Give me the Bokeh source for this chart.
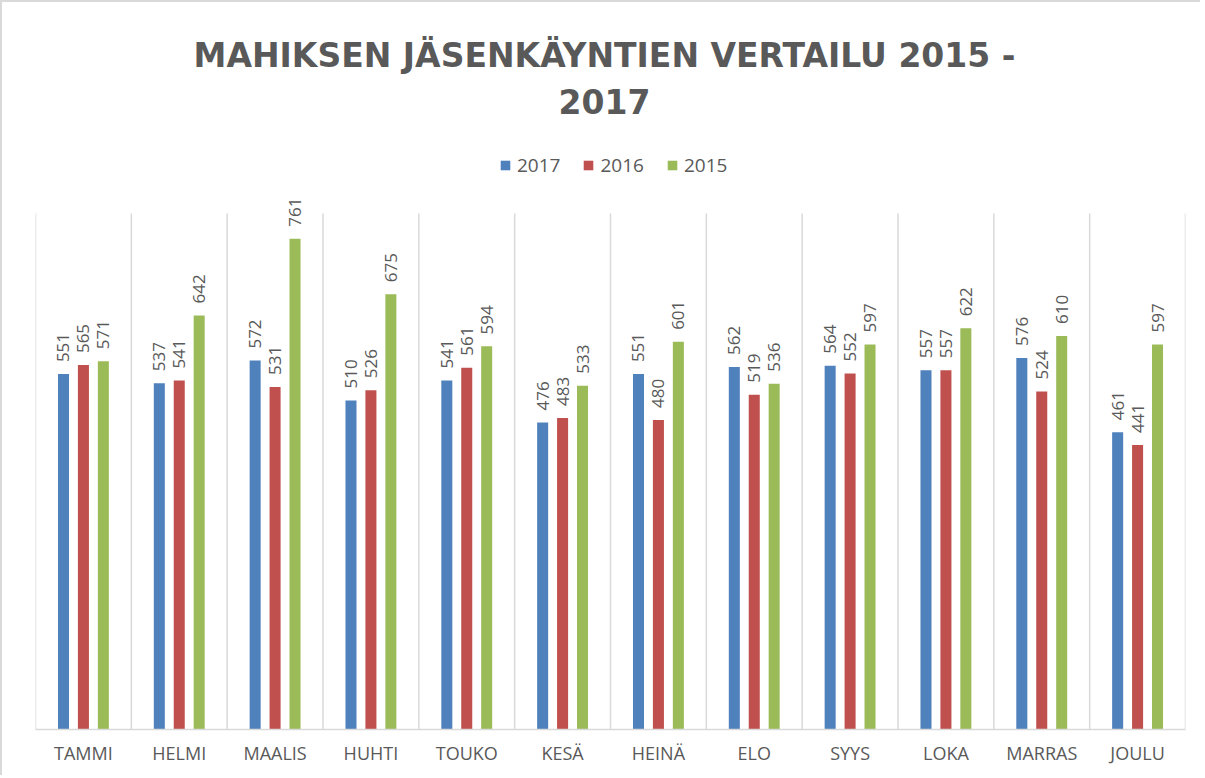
import numpy as np
from bokeh.plotting import figure
from bokeh.models import Range1d, FixedTicker, ColumnDataSource, LabelSet, Label, Legend, LegendItem
from bokeh.embed import file_html
from bokeh.resources import INLINE
from bokeh.core.properties import value

months = ["TAMMI", "HELMI", "MAALIS", "HUHTI", "TOUKO", "KESÄ",
          "HEINÄ", "ELO", "SYYS", "LOKA", "MARRAS", "JOULU"]
v2017 = [551, 537, 572, 510, 541, 476, 551, 562, 564, 557, 576, 461]
v2016 = [565, 541, 531, 526, 561, 483, 480, 519, 552, 557, 524, 441]
v2015 = [571, 642, 761, 675, 594, 533, 601, 536, 597, 622, 610, 597]
series = ["2017", "2016", "2015"]
values = [v2017, v2016, v2015]
colors = ["#4F81BD", "#C0504D", "#9BBB59"]
title_lines = ["MAHIKSEN JÄSENKÄYNTIEN VERTAILU 2015 -", "2017"]
y_max = 800

FONT = "Open Sans"
TFONT = "DejaVu Sans"
GRAY = "#595959"
GRID = "#d9d9d9"

# frame covers the whole upper canvas so that title/legend/labels are not clipped
FRAME_H = 727
Y_TOP = y_max * FRAME_H / 516.0

p = figure(width=1200, height=775, x_range=Range1d(0, 12), y_range=Range1d(0, Y_TOP),
           output_backend="svg", toolbar_location=None,
           min_border_left=33, min_border_right=17, min_border_top=0, min_border_bottom=48)
p.yaxis.visible = False
p.outline_line_color = None
p.xgrid.grid_line_color = None
p.ygrid.grid_line_color = None

# category separators (gridlines) from 0 to y_max
bounds = np.arange(len(months) + 1)
p.segment(x0=bounds, y0=0, x1=bounds, y1=y_max, line_color=GRID, line_width=1.5)

centers = np.arange(len(months)) + 0.5
p.xaxis.ticker = FixedTicker(ticks=list(centers))
p.xaxis.major_label_overrides = {float(c): m for c, m in zip(centers, months)}
p.xaxis.major_tick_line_color = None
p.xaxis.minor_tick_line_color = None
p.xaxis.axis_line_color = GRID
p.xaxis.axis_line_width = 1.5
p.xaxis.major_label_text_font = FONT
p.xaxis.major_label_text_font_size = "18px"
p.xaxis.major_label_text_color = GRAY
p.xaxis.major_label_standoff = 5

offsets = [-0.208, 0.0, 0.208]
items = []
for s, vals, col, off in zip(series, values, colors, offsets):
    src = ColumnDataSource(dict(x=centers + off, top=vals, lab=[str(v) for v in vals]))
    r = p.vbar(x="x", top="top", width=0.115, source=src, fill_color=col, line_color=None)
    items.append(LegendItem(label=s, renderers=[r]))
    p.add_layout(LabelSet(x="x", y="top", text="lab", source=src, angle=90, angle_units="deg",
                          text_align="left", text_baseline="middle", y_offset=12,
                          text_font=value(FONT), text_font_size=value("17px"),
                          text_color=value(GRAY)))

legend = Legend(items=items, orientation="horizontal", location=(464, 551),
                glyph_width=12, glyph_height=12, label_standoff=6, spacing=22,
                padding=0, margin=0, border_line_color=None, background_fill_alpha=0,
                label_text_font=FONT, label_text_font_size="19px", label_text_color=GRAY)
p.add_layout(legend, "center")

for t, yy in zip(title_lines, [674, 628]):
    p.add_layout(Label(x=569, y=yy, x_units="screen", y_units="screen", text=t,
                       text_align="center", text_baseline="middle",
                       text_font=TFONT, text_font_style="bold", text_font_size="33px",
                       text_color=GRAY))

p.styles = {"border-top": "2px solid #d9d9d9", "border-left": "2px solid #d9d9d9"}

open("out.html", "w").write(file_html(p, INLINE))
